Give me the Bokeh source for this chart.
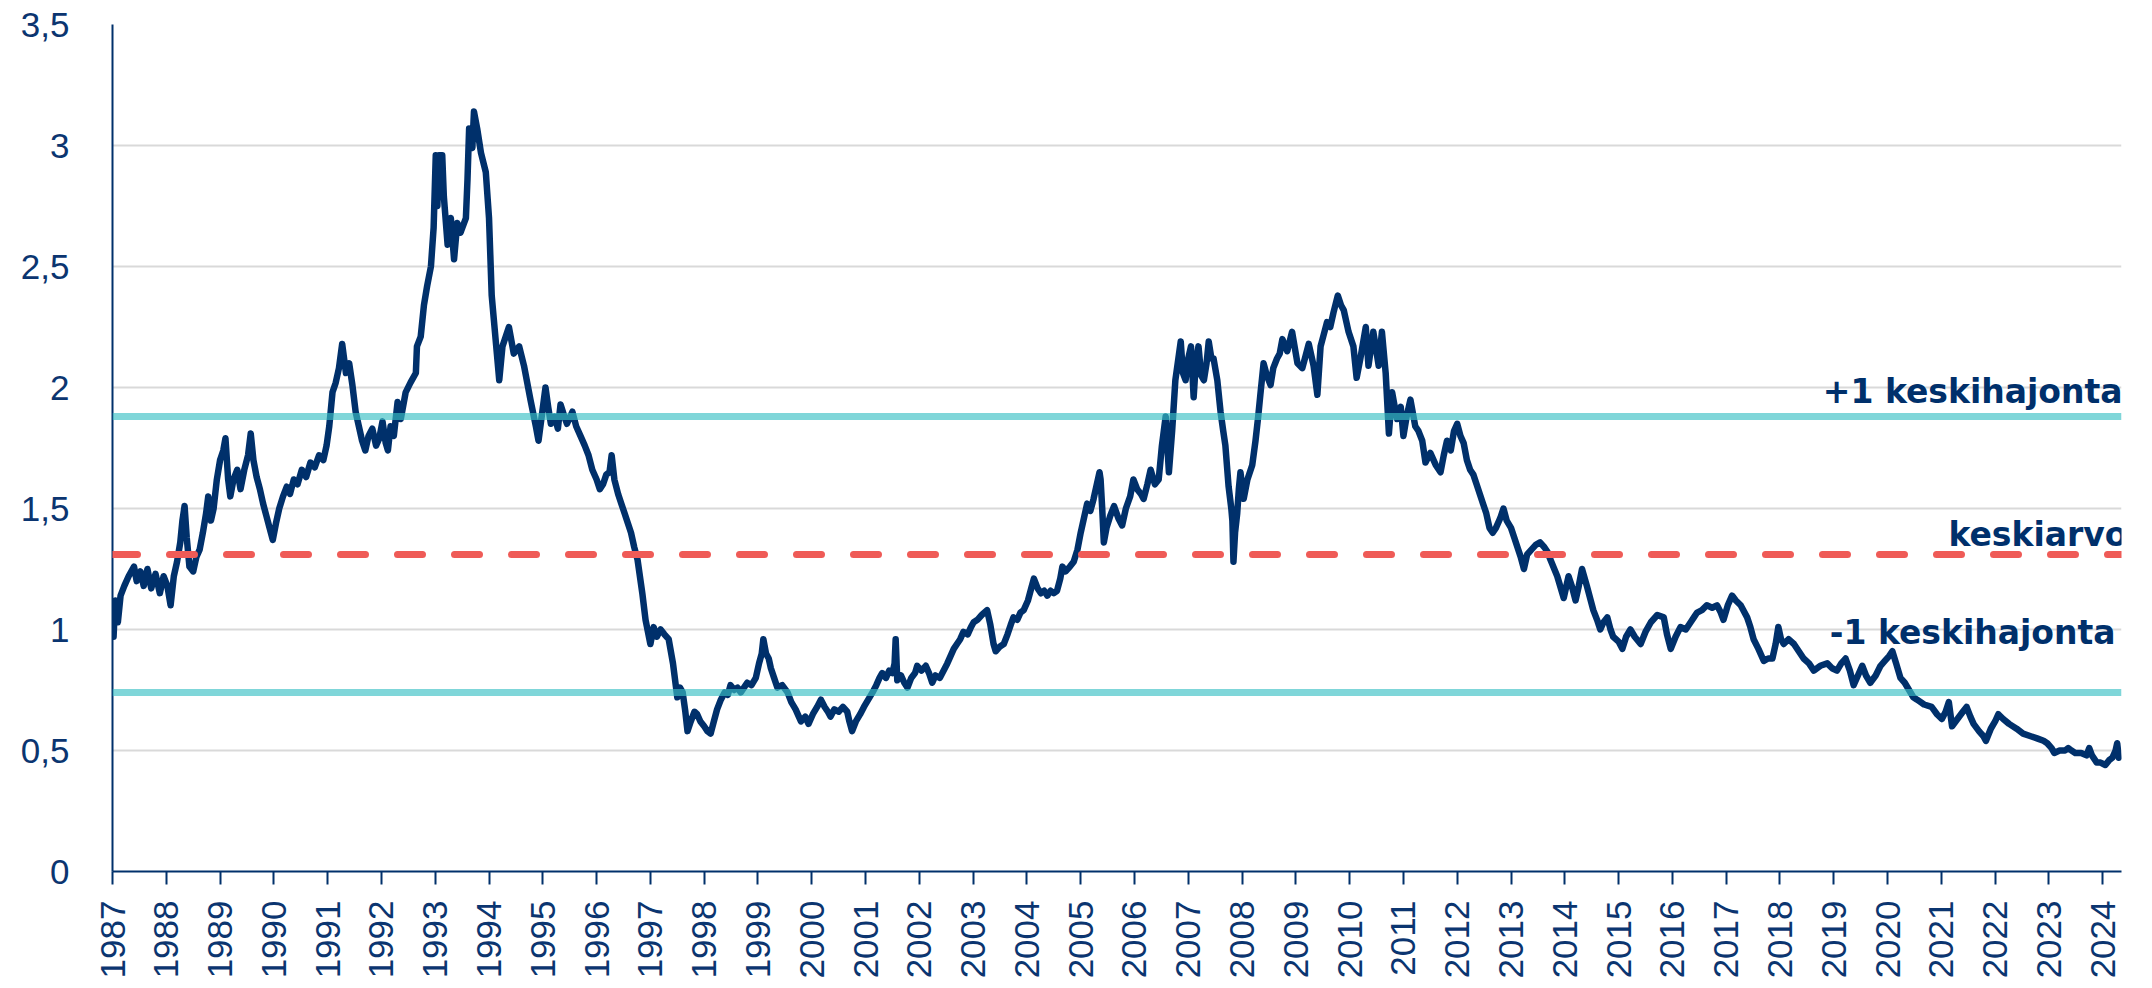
import math
from bokeh.plotting import figure
from bokeh.models import Span, Label, FixedTicker, Range1d, CustomJSTickFormatter
from bokeh.embed import file_html
from bokeh.resources import INLINE

# ---- data (decimal year, value) ----
years = [
    1987.00, 1987.02, 1987.05, 1987.10, 1987.15, 1987.22, 1987.30, 1987.40, 1987.45, 1987.52,
    1987.58, 1987.65, 1987.72, 1987.80, 1987.88, 1987.95, 1988.02, 1988.08, 1988.14, 1988.20,
    1988.26, 1988.30, 1988.34, 1988.38, 1988.43, 1988.50, 1988.56, 1988.62, 1988.68, 1988.74,
    1988.78, 1988.83, 1988.88, 1988.94, 1989.00, 1989.06, 1989.10, 1989.15, 1989.19, 1989.25,
    1989.32, 1989.38, 1989.45, 1989.52, 1989.57, 1989.62, 1989.68, 1989.74, 1989.80, 1989.86,
    1989.92, 1989.98, 1990.04, 1990.10, 1990.17, 1990.24, 1990.30, 1990.37, 1990.44, 1990.52,
    1990.60, 1990.68, 1990.76, 1990.84, 1990.92, 1990.98, 1991.03, 1991.09, 1991.15, 1991.21,
    1991.27, 1991.34, 1991.40, 1991.46, 1991.52, 1991.58, 1991.64, 1991.70, 1991.76, 1991.83,
    1991.90, 1991.96, 1992.02, 1992.08, 1992.12, 1992.17, 1992.23, 1992.30, 1992.36, 1992.45,
    1992.54, 1992.64, 1992.66, 1992.73, 1992.79, 1992.85, 1992.92, 1992.97, 1993.01, 1993.04,
    1993.07, 1993.13, 1993.16, 1993.23, 1993.29, 1993.35, 1993.41, 1993.47, 1993.57, 1993.60,
    1993.63, 1993.69, 1993.72, 1993.78, 1993.85, 1993.94, 1994.00, 1994.05, 1994.09, 1994.19,
    1994.25, 1994.37, 1994.46, 1994.56, 1994.65, 1994.77, 1994.87, 1994.92, 1995.05, 1995.10,
    1995.15, 1995.22, 1995.28, 1995.33, 1995.40, 1995.45, 1995.55, 1995.62, 1995.70, 1995.78,
    1995.85, 1995.92, 1996.00, 1996.06, 1996.12, 1996.18, 1996.24, 1996.28, 1996.33, 1996.40,
    1996.46, 1996.52, 1996.58, 1996.64, 1996.70, 1996.76, 1996.85, 1996.91, 1997.00, 1997.06,
    1997.12, 1997.19, 1997.26, 1997.34, 1997.42, 1997.50, 1997.55, 1997.60, 1997.65, 1997.69,
    1997.75, 1997.82, 1997.87, 1997.93, 1998.00, 1998.06, 1998.12, 1998.18, 1998.24, 1998.31,
    1998.38, 1998.44, 1998.49, 1998.56, 1998.62, 1998.68, 1998.74, 1998.80, 1998.88, 1998.96,
    1999.02, 1999.07, 1999.10, 1999.15, 1999.20, 1999.24, 1999.30, 1999.36, 1999.45, 1999.55,
    1999.62, 1999.70, 1999.76, 1999.80, 1999.88, 1999.94, 2000.02, 2000.10, 2000.17, 2000.24,
    2000.30, 2000.35, 2000.42, 2000.50, 2000.58, 2000.66, 2000.70, 2000.75, 2000.82, 2000.90,
    2000.97, 2001.05, 2001.13, 2001.20, 2001.26, 2001.31, 2001.38, 2001.44, 2001.50, 2001.54,
    2001.56, 2001.59, 2001.66, 2001.72, 2001.78, 2001.85, 2001.92, 2001.96, 2002.04, 2002.12,
    2002.18, 2002.24, 2002.30, 2002.38, 2002.45, 2002.52, 2002.58, 2002.64, 2002.70, 2002.76,
    2002.82, 2002.90, 2002.96, 2003.01, 2003.08, 2003.16, 2003.26, 2003.32, 2003.38, 2003.42,
    2003.50, 2003.57, 2003.64, 2003.70, 2003.75, 2003.82, 2003.88, 2003.94, 2004.02, 2004.08,
    2004.13, 2004.20, 2004.26, 2004.32, 2004.38, 2004.44, 2004.50, 2004.56, 2004.62, 2004.66,
    2004.72, 2004.80, 2004.87, 2004.94, 2005.00, 2005.06, 2005.12, 2005.18, 2005.24, 2005.30,
    2005.35, 2005.37, 2005.40, 2005.43, 2005.48, 2005.55, 2005.62, 2005.70, 2005.77, 2005.84,
    2005.92, 2005.98, 2006.05, 2006.12, 2006.17, 2006.24, 2006.30, 2006.38, 2006.45, 2006.51,
    2006.58, 2006.64, 2006.70, 2006.76, 2006.86, 2006.90, 2006.95, 2007.00, 2007.05, 2007.10,
    2007.14, 2007.19, 2007.24, 2007.29, 2007.34, 2007.38, 2007.43, 2007.47, 2007.54, 2007.60,
    2007.65, 2007.69, 2007.75, 2007.80, 2007.82, 2007.84, 2007.87, 2007.91, 2007.94, 2007.97,
    2008.03, 2008.10, 2008.19, 2008.25, 2008.30, 2008.34, 2008.40, 2008.46, 2008.53, 2008.58,
    2008.65, 2008.70, 2008.75, 2008.84, 2008.93, 2009.03, 2009.12, 2009.18, 2009.24, 2009.33,
    2009.40, 2009.46, 2009.52, 2009.58, 2009.64, 2009.70, 2009.78, 2009.84, 2009.89, 2009.98,
    2010.07, 2010.13, 2010.20, 2010.30, 2010.35, 2010.44, 2010.54, 2010.60, 2010.67, 2010.73,
    2010.79, 2010.88, 2010.95, 2011.00, 2011.06, 2011.13, 2011.22, 2011.28, 2011.35, 2011.41,
    2011.50, 2011.60, 2011.69, 2011.75, 2011.81, 2011.88, 2011.94, 2012.00, 2012.06, 2012.12,
    2012.18, 2012.24, 2012.30, 2012.36, 2012.42, 2012.48, 2012.54, 2012.60, 2012.66, 2012.72,
    2012.80, 2012.86, 2012.92, 2013.00, 2013.06, 2013.12, 2013.18, 2013.24, 2013.30, 2013.38,
    2013.46, 2013.54, 2013.62, 2013.68, 2013.73, 2013.86, 2013.98, 2014.07, 2014.13, 2014.20,
    2014.26, 2014.32, 2014.41, 2014.53, 2014.60, 2014.66, 2014.72, 2014.79, 2014.85, 2014.90,
    2015.00, 2015.07, 2015.14, 2015.22, 2015.30, 2015.41, 2015.50, 2015.60, 2015.72, 2015.84,
    2015.90, 2015.97, 2016.06, 2016.15, 2016.25, 2016.34, 2016.40, 2016.46, 2016.55, 2016.64,
    2016.74, 2016.83, 2016.90, 2016.95, 2017.03, 2017.11, 2017.18, 2017.27, 2017.39, 2017.45,
    2017.51, 2017.60, 2017.70, 2017.78, 2017.86, 2017.92, 2017.97, 2018.02, 2018.07, 2018.16,
    2018.26, 2018.35, 2018.44, 2018.54, 2018.63, 2018.75, 2018.88, 2018.97, 2019.06, 2019.14,
    2019.22, 2019.30, 2019.37, 2019.45, 2019.53, 2019.60, 2019.68, 2019.78, 2019.87, 2019.95,
    2020.03, 2020.09, 2020.16, 2020.24, 2020.32, 2020.40, 2020.48, 2020.55, 2020.68, 2020.82,
    2020.92, 2021.01, 2021.08, 2021.14, 2021.20, 2021.30, 2021.40, 2021.47, 2021.54, 2021.60,
    2021.70, 2021.78, 2021.83, 2021.92, 2022.00, 2022.06, 2022.15, 2022.26, 2022.40, 2022.52,
    2022.65, 2022.78, 2022.90, 2022.97, 2023.05, 2023.10, 2023.20, 2023.30, 2023.36, 2023.42,
    2023.49, 2023.60, 2023.70, 2023.75, 2023.80, 2023.89, 2023.96, 2024.05, 2024.12, 2024.18,
    2024.24, 2024.27, 2024.30,
]
values = [
    1.10, 0.97, 1.12, 1.03, 1.14, 1.18, 1.22, 1.26, 1.20, 1.24,
    1.18, 1.25, 1.17, 1.23, 1.15, 1.22, 1.18, 1.10, 1.22, 1.28,
    1.36, 1.45, 1.51, 1.38, 1.26, 1.24, 1.30, 1.33, 1.40, 1.48,
    1.55, 1.45, 1.50, 1.62, 1.70, 1.74, 1.79, 1.62, 1.55, 1.62,
    1.66, 1.58, 1.66, 1.72, 1.81, 1.70, 1.63, 1.58, 1.52, 1.47,
    1.42, 1.37, 1.44, 1.50, 1.55, 1.59, 1.56, 1.62, 1.60, 1.66,
    1.63, 1.69, 1.67, 1.72, 1.70, 1.76, 1.84, 1.98, 2.02, 2.08,
    2.18, 2.06, 2.10, 2.01, 1.90, 1.84, 1.78, 1.74, 1.80, 1.83,
    1.76, 1.79, 1.86, 1.77, 1.74, 1.84, 1.80, 1.94, 1.87, 1.98,
    2.02, 2.06, 2.17, 2.21, 2.34, 2.42, 2.50, 2.66, 2.96, 2.75,
    2.96, 2.96, 2.79, 2.59, 2.70, 2.53, 2.68, 2.64, 2.70, 2.86,
    3.07, 2.99, 3.14, 3.07, 2.97, 2.89, 2.70, 2.38, 2.28, 2.03,
    2.17, 2.25, 2.14, 2.17, 2.09, 1.95, 1.84, 1.78, 2.00, 1.92,
    1.85, 1.88, 1.83, 1.93, 1.88, 1.85, 1.90, 1.84, 1.80, 1.76,
    1.72, 1.66, 1.62, 1.58, 1.60, 1.64, 1.65, 1.72, 1.62, 1.56,
    1.52, 1.48, 1.44, 1.40, 1.34, 1.29, 1.15, 1.04, 0.94, 1.01,
    0.97, 1.00, 0.98, 0.96, 0.86, 0.72, 0.76, 0.74, 0.66, 0.58,
    0.62, 0.66, 0.65, 0.62, 0.60, 0.58, 0.57, 0.62, 0.67, 0.71,
    0.74, 0.73, 0.77, 0.75, 0.76, 0.74, 0.76, 0.78, 0.77, 0.80,
    0.86, 0.90, 0.96, 0.90, 0.88, 0.84, 0.80, 0.76, 0.77, 0.74,
    0.70, 0.67, 0.64, 0.62, 0.64, 0.61, 0.65, 0.68, 0.71, 0.68,
    0.66, 0.64, 0.67, 0.66, 0.68, 0.66, 0.62, 0.58, 0.62, 0.65,
    0.68, 0.71, 0.74, 0.77, 0.80, 0.82, 0.80, 0.83, 0.82, 0.86,
    0.96, 0.79, 0.81, 0.78, 0.76, 0.80, 0.82, 0.85, 0.83, 0.85,
    0.82, 0.78, 0.81, 0.80, 0.83, 0.86, 0.89, 0.92, 0.94, 0.96,
    0.99, 0.98, 1.01, 1.03, 1.04, 1.06, 1.08, 1.02, 0.94, 0.91,
    0.93, 0.94, 0.98, 1.02, 1.05, 1.04, 1.07, 1.08, 1.12, 1.17,
    1.21, 1.17, 1.15, 1.16, 1.14, 1.16, 1.15, 1.16, 1.21, 1.26,
    1.24, 1.26, 1.28, 1.33, 1.40, 1.46, 1.52, 1.49, 1.54, 1.60,
    1.65, 1.62, 1.50, 1.36, 1.42, 1.47, 1.51, 1.46, 1.43, 1.50,
    1.55, 1.62, 1.58, 1.56, 1.54, 1.60, 1.66, 1.60, 1.62, 1.76,
    1.88, 1.65, 1.82, 2.03, 2.19, 2.06, 2.03, 2.12, 2.17, 1.96,
    2.10, 2.17, 2.05, 2.03, 2.10, 2.19, 2.12, 2.12, 2.03, 1.90,
    1.82, 1.76, 1.59, 1.50, 1.45, 1.28, 1.40, 1.48, 1.58, 1.65,
    1.54, 1.62, 1.68, 1.78, 1.88, 1.97, 2.10, 2.05, 2.01, 2.08,
    2.12, 2.14, 2.20, 2.15, 2.23, 2.10, 2.08, 2.13, 2.18, 2.09,
    1.97, 2.17, 2.22, 2.27, 2.25, 2.31, 2.38, 2.34, 2.32, 2.23,
    2.17, 2.04, 2.12, 2.25, 2.09, 2.23, 2.09, 2.23, 2.06, 1.81,
    1.98, 1.87, 1.92, 1.80, 1.88, 1.95, 1.84, 1.82, 1.78, 1.69,
    1.73, 1.68, 1.65, 1.72, 1.78, 1.74, 1.82, 1.85, 1.80, 1.77,
    1.70, 1.66, 1.64, 1.60, 1.56, 1.52, 1.48, 1.42, 1.40, 1.42,
    1.46, 1.50, 1.45, 1.42, 1.38, 1.34, 1.30, 1.25, 1.31, 1.33,
    1.35, 1.36, 1.34, 1.32, 1.29, 1.22, 1.13, 1.22, 1.18, 1.12,
    1.18, 1.25, 1.18, 1.08, 1.04, 1.00, 1.03, 1.05, 1.00, 0.97,
    0.95, 0.92, 0.97, 1.00, 0.97, 0.94, 0.99, 1.03, 1.06, 1.05,
    0.98, 0.92, 0.97, 1.01, 1.00, 1.03, 1.05, 1.07, 1.08, 1.10,
    1.09, 1.10, 1.07, 1.04, 1.10, 1.14, 1.12, 1.10, 1.05, 1.01,
    0.96, 0.92, 0.87, 0.88, 0.88, 0.94, 1.01, 0.96, 0.94, 0.96,
    0.94, 0.91, 0.88, 0.86, 0.83, 0.85, 0.86, 0.84, 0.83, 0.86,
    0.88, 0.83, 0.77, 0.81, 0.85, 0.81, 0.78, 0.81, 0.85, 0.87,
    0.89, 0.91, 0.86, 0.80, 0.78, 0.75, 0.72, 0.71, 0.69, 0.68,
    0.65, 0.63, 0.66, 0.70, 0.60, 0.63, 0.66, 0.68, 0.64, 0.61,
    0.58, 0.56, 0.54, 0.59, 0.62, 0.65, 0.63, 0.61, 0.59, 0.57,
    0.56, 0.55, 0.54, 0.53, 0.51, 0.49, 0.50, 0.50, 0.51, 0.50,
    0.49, 0.49, 0.48, 0.51, 0.48, 0.45, 0.45, 0.44, 0.46, 0.47,
    0.50, 0.53, 0.47,
]

year_ticks = list(range(1987, 2025))
y_ticks = [0, 0.5, 1, 1.5, 2, 2.5, 3, 3.5]

mean_value = 1.31
plus_one_sd = 1.88
minus_one_sd = 0.74
label_plus = "+1 keskihajonta"
label_mean = "keskiarvo"
label_minus = "-1 keskihajonta"

NAVY = "#00306b"
TEXT = "#0b3570"
X_END = 2024.35

p = figure(
    width=2152, height=988,
    output_backend="svg", toolbar_location=None,
    x_range=Range1d(1987, X_END), y_range=Range1d(0, 3.5),
    min_border_left=112, min_border_right=31, min_border_top=24, min_border_bottom=117,
)
p.background_fill_color = "white"
p.border_fill_color = "white"
p.outline_line_color = None

p.xgrid.visible = False
p.ygrid.grid_line_color = "#d9d9d9"
p.ygrid.grid_line_width = 2
p.ygrid.ticker = FixedTicker(ticks=y_ticks)

# y axis
p.yaxis.ticker = FixedTicker(ticks=y_ticks)
p.yaxis.formatter = CustomJSTickFormatter(code="return tick.toString().replace('.', ',');")
p.yaxis.axis_line_color = NAVY
p.yaxis.axis_line_width = 2
p.yaxis.major_tick_out = 0
p.yaxis.major_tick_in = 0
p.yaxis.minor_tick_out = 0
p.yaxis.minor_tick_in = 0
p.yaxis.major_label_standoff = 43
p.yaxis.major_label_text_font = "Liberation Sans"
p.yaxis.major_label_text_font_size = "35px"
p.yaxis.major_label_text_color = TEXT

# x axis
p.xaxis.ticker = FixedTicker(ticks=year_ticks)
p.xaxis.axis_line_color = NAVY
p.xaxis.axis_line_width = 2
p.xaxis.major_tick_line_color = NAVY
p.xaxis.major_tick_line_width = 2
p.xaxis.major_tick_out = 13
p.xaxis.major_tick_in = 0
p.xaxis.minor_tick_out = 0
p.xaxis.minor_tick_in = 0
p.xaxis.major_label_orientation = math.pi / 2
p.xaxis.major_label_standoff = 16
p.xaxis.major_label_text_font = "Liberation Sans"
p.xaxis.major_label_text_font_size = "35px"
p.xaxis.major_label_text_color = TEXT

# data line
p.line(years, values, line_color=NAVY, line_width=6.5, line_join="round", line_cap="round")

# reference lines
for loc in (plus_one_sd, minus_one_sd):
    p.add_layout(Span(location=loc, dimension="width", line_color="#3ac0c5",
                      line_alpha=0.65, line_width=7))
p.add_layout(Span(location=mean_value, dimension="width", line_color="#ef5b57",
                  line_width=7, line_dash="25 32", line_cap="round"))

for txt, yv, xo, yo in ((label_plus, plus_one_sd, 1, 25),
                        (label_mean, mean_value, 6, 20),
                        (label_minus, minus_one_sd, -6, 60)):
    p.add_layout(Label(x=X_END, y=yv, x_offset=xo, y_offset=yo, text=txt,
                       text_align="right", text_baseline="alphabetic",
                       text_font="DejaVu Sans", text_font_style="bold",
                       text_font_size="33px", text_color=NAVY))

open("out.html", "w").write(file_html(p, INLINE))
